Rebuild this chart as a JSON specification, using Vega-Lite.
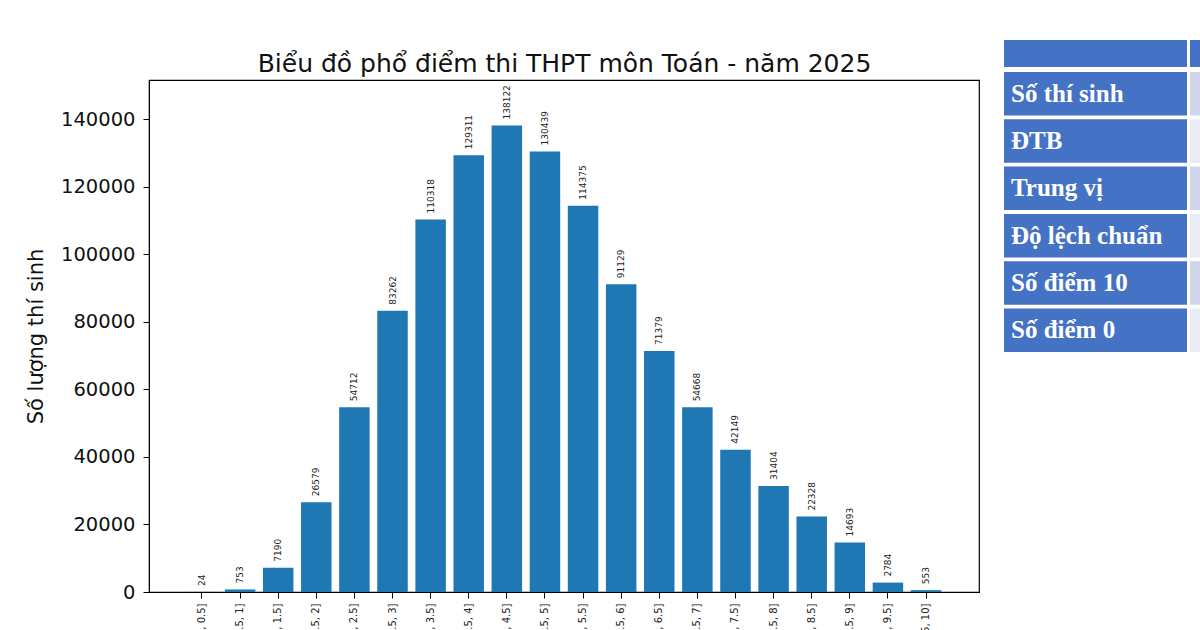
{
  "$schema": "https://vega.github.io/schema/vega-lite/v6.json",
  "background": "white",
  "padding": {"left": 24, "top": 40, "right": 0, "bottom": 0},
  "config": {"font": "DejaVu Sans", "view": {"stroke": null}},
  "spacing": 24,
  "hconcat": [
    {
      "spacing": 9,
      "vconcat": [
        {"width": 830, "height": 1, "data": {"values": []}, "mark": {"type": "rect"}},
        {
          "width": 830,
          "height": 512,
          "data": {"values": [
            {"bin": "(0, 0.5]", "count": 24},
            {"bin": "(0.5, 1]", "count": 753},
            {"bin": "(1, 1.5]", "count": 7190},
            {"bin": "(1.5, 2]", "count": 26579},
            {"bin": "(2, 2.5]", "count": 54712},
            {"bin": "(2.5, 3]", "count": 83262},
            {"bin": "(3, 3.5]", "count": 110318},
            {"bin": "(3.5, 4]", "count": 129311},
            {"bin": "(4, 4.5]", "count": 138122},
            {"bin": "(4.5, 5]", "count": 130439},
            {"bin": "(5, 5.5]", "count": 114375},
            {"bin": "(5.5, 6]", "count": 91129},
            {"bin": "(6, 6.5]", "count": 71379},
            {"bin": "(6.5, 7]", "count": 54668},
            {"bin": "(7, 7.5]", "count": 42149},
            {"bin": "(7.5, 8]", "count": 31404},
            {"bin": "(8, 8.5]", "count": 22328},
            {"bin": "(8.5, 9]", "count": 14693},
            {"bin": "(9, 9.5]", "count": 2784},
            {"bin": "(9.5, 10]", "count": 553}
          ]},
          "view": {"stroke": "black", "strokeWidth": 1.2},
          "encoding": {
            "y": {"field": "count", "type": "quantitative",
              "scale": {"domain": [0, 151600], "nice": false},
              "axis": {"title": "Số lượng thí sinh", "titleFontSize": 21, "titleFontWeight": "normal", "labelFontSize": 19.5, "grid": false,
                "values": [0, 20000, 40000, 60000, 80000, 100000, 120000, 140000], "format": "d",
                "tickSize": 6, "labelPadding": 8, "titlePadding": 14, "domainColor": "black", "tickColor": "black", "labelColor": "#111", "titleColor": "#111"}}
          },
          "resolve": {"axis": {"x": "independent"}},
          "layer": [
            {"mark": {"type": "bar", "color": "#1f77b4"},
              "encoding": {
                "x": {"field": "bin", "type": "ordinal", "sort": null,
                  "scale": {"paddingInner": 0.2, "paddingOuter": 0.99},
                  "axis": {"title": null, "labelAngle": -90, "labelFontSize": 10, "tickSize": 6, "tickColor": "black", "domainColor": "black", "labelColor": "#222", "labelPadding": 5}}
              }},
            {"mark": {"type": "text", "angle": 270, "align": "left", "baseline": "middle", "dx": 6, "fontSize": 9, "color": "#222"},
              "encoding": {
                "x": {"field": "bin", "type": "ordinal", "sort": null,
                  "axis": {"orient": "top", "title": "Biểu đồ phổ điểm thi THPT môn Toán - năm 2025", "titleFontSize": 25, "titleFontWeight": "normal", "titleColor": "#111", "titlePadding": 4, "labels": false, "ticks": false, "domain": false}},
                "text": {"field": "count", "type": "quantitative", "format": "d"}}}
          ]
        }
      ]
    },
    {
      "spacing": 5,
      "vconcat": [
        {
          "spacing": 3,
          "hconcat": [
            {"width": 183, "height": 27, "data": {"values": [{"row": "h"}]},
              "mark": {"type": "rect", "color": "#4472c4"},
              "encoding": {"y": {"field": "row", "type": "ordinal", "scale": {"paddingInner": 0, "paddingOuter": 0}, "axis": null}}},
            {"width": 10, "height": 27, "data": {"values": [{"row": "h"}]},
              "mark": {"type": "rect", "color": "#4472c4"},
              "encoding": {"y": {"field": "row", "type": "ordinal", "scale": {"paddingInner": 0, "paddingOuter": 0}, "axis": null}}}
          ]
        },
        {
          "spacing": 3,
          "hconcat": [
            {
              "width": 183,
              "height": 280,
              "data": {"values": [
                {"row": "r1", "text": "Số thí sinh", "shade": "dark"},
                {"row": "r2", "text": "ĐTB", "shade": "light"},
                {"row": "r3", "text": "Trung vị", "shade": "dark"},
                {"row": "r4", "text": "Độ lệch chuẩn", "shade": "light"},
                {"row": "r5", "text": "Số điểm 10", "shade": "dark"},
                {"row": "r6", "text": "Số điểm 0", "shade": "light"}
              ]},
              "encoding": {
                "y": {"field": "row", "type": "ordinal", "scale": {"paddingInner": 0.08, "paddingOuter": 0}, "axis": null}
              },
              "layer": [
                {"mark": {"type": "rect", "color": "#4472c4"}},
                {"mark": {"type": "text", "align": "left", "baseline": "middle", "x": 7, "font": "Liberation Serif", "fontWeight": "bold", "fontSize": 25, "color": "white"},
                  "encoding": {"text": {"field": "text"}}}
              ]
            },
            {
              "width": 10,
              "height": 280,
              "data": {"values": [
                {"row": "r1", "text": "Số thí sinh", "shade": "dark"},
                {"row": "r2", "text": "ĐTB", "shade": "light"},
                {"row": "r3", "text": "Trung vị", "shade": "dark"},
                {"row": "r4", "text": "Độ lệch chuẩn", "shade": "light"},
                {"row": "r5", "text": "Số điểm 10", "shade": "dark"},
                {"row": "r6", "text": "Số điểm 0", "shade": "light"}
              ]},
              "mark": {"type": "rect"},
              "encoding": {
                "y": {"field": "row", "type": "ordinal", "scale": {"paddingInner": 0.08, "paddingOuter": 0}, "axis": null},
                "color": {"field": "shade", "type": "nominal", "scale": {"domain": ["dark", "light"], "range": ["#cfd5ea", "#e9ebf5"]}, "legend": null}
              }
            }
          ]
        }
      ]
    }
  ]
}
